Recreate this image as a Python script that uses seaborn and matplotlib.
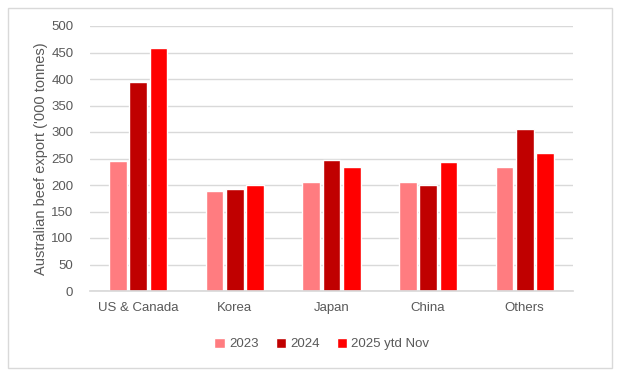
import pandas as pd
import matplotlib
matplotlib.use("Agg")
import matplotlib.pyplot as plt
from matplotlib.patches import Rectangle
import seaborn as sns

# Values ('000 tonnes)
regions = ["US & Canada", "Korea", "Japan", "China", "Others"]
series = ["2023", "2024", "2025 ytd Nov"]
exports_2023 = [245, 189, 206, 206, 234]
exports_2024 = [394, 192, 247, 200, 306]
exports_2025 = [458, 200, 234, 243, 260]
colors = ["#ff7c80", "#c00000", "#ff0000"]

df = pd.DataFrame({"Region": regions * 3,
                   "Year": [s for s in series for _ in regions],
                   "Export": exports_2023 + exports_2024 + exports_2025})

sns.set_theme(style="white")
plt.rcParams["font.family"] = ["Liberation Sans", "DejaVu Sans"]
text_col = "#595959"

fig = plt.figure(figsize=(6.21, 3.76), dpi=100)
ax = fig.add_axes([90 / 621, 1 - 291 / 376, 483 / 621, 265 / 376])

sns.barplot(data=df, x="Region", y="Export", hue="Year", palette=colors,
            width=0.63, gap=0.13, saturation=1, ax=ax, legend=True)

ax.set_ylim(0, 500)
ax.set_yticks(range(0, 501, 50))
ax.set_xlim(-0.5, 4.5)
ax.grid(axis="y", color="#d9d9d9", linewidth=1)
ax.set_axisbelow(True)
for s in ["top", "right", "left"]:
    ax.spines[s].set_visible(False)
ax.spines["bottom"].set_color("#d9d9d9")
ax.tick_params(axis="both", length=0, labelsize=9.5, colors=text_col)
ax.tick_params(axis="y", pad=12)
ax.tick_params(axis="x", pad=8)
ax.set_xlabel("")
ax.set_ylabel("Australian beef export ('000 tonnes)", fontsize=10.5, color=text_col, labelpad=2)

ax.legend(loc="center", bbox_to_anchor=(0.48, -0.2), ncol=3, frameon=False,
          fontsize=9.5, labelcolor=text_col, handlelength=0.8, handleheight=0.8,
          handletextpad=0.3, columnspacing=1.3)

fig.patches.append(Rectangle((8 / 621, 1 - 368 / 376), 604 / 621, 360 / 376,
                             transform=fig.transFigure, fill=False,
                             edgecolor="#d9d9d9", linewidth=1))

fig.savefig("out.png", dpi=100)
